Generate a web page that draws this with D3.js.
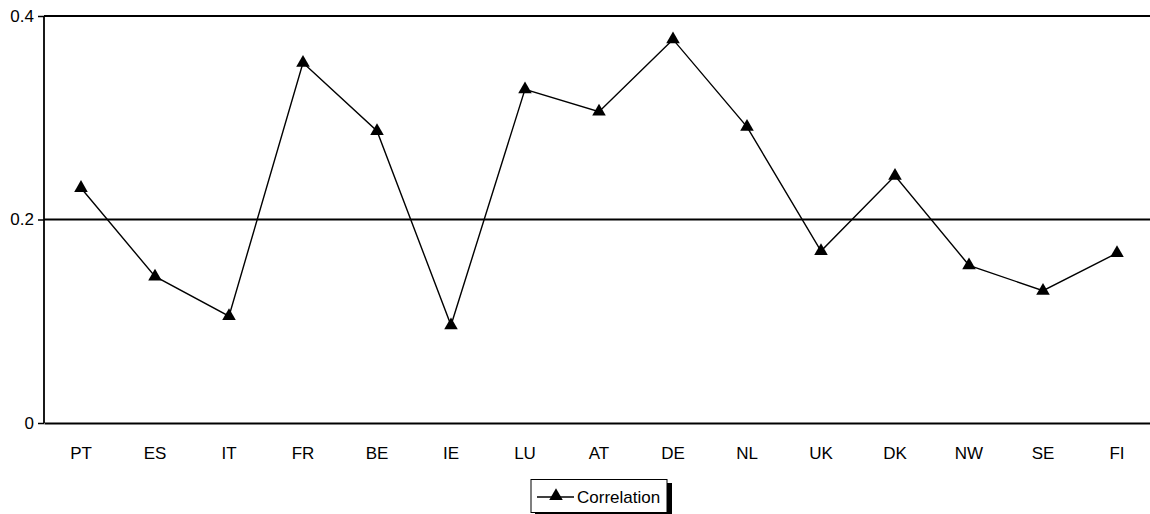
<!DOCTYPE html>
<html>
<head>
<meta charset="utf-8">
<script src="https://cdn.jsdelivr.net/npm/d3@7"></script>
<style>
  body { margin: 0; background: #fff; }
  text { font-family: "Liberation Sans", Arial, sans-serif; }
</style>
</head>
<body>
<svg width="1150" height="514"></svg>
<script>
// country codes along the x axis
var countries = ["PT", "ES", "IT", "FR", "BE", "IE", "LU", "AT", "DE", "NL", "UK", "DK", "NW", "SE", "FI"];
// correlation per country
var correlation = [0.231, 0.144, 0.105, 0.354, 0.287, 0.096, 0.328, 0.306, 0.377, 0.291, 0.169, 0.243, 0.155, 0.130, 0.167];
var yTicks = [0, 0.2, 0.4];

var svg = d3.select("svg");

var xScale = d3.scaleBand().domain(countries).range([44, 1154]);
var yScale = d3.scaleLinear().domain([0, 0.4]).range([423, 16]);

// horizontal gridlines
svg.append("g").selectAll("line.grid")
  .data(yTicks.slice(1))
  .enter()
  .append("line")
  .attr("x1", 44).attr("x2", 1154)
  .attr("y1", function(d) { return yScale(d); })
  .attr("y2", function(d) { return yScale(d); })
  .attr("stroke", "#000")
  .attr("stroke-width", 1.8);

// y axis
var yAxis = d3.axisLeft(yScale).tickValues(yTicks).tickSize(6).tickPadding(4)
  .tickFormat(function(d) { return d === 0 ? "0" : d3.format(".1f")(d); });
var yG = svg.append("g").attr("transform", "translate(44,0)").call(yAxis);
yG.select(".domain").attr("stroke-width", 1.8).attr("d", "M0," + yScale(0) + "V" + yScale(0.4));
yG.selectAll(".tick line").attr("stroke-width", 1.5);
yG.selectAll("text").style("font-size", "17px").attr("fill", "#000");

// x axis
var xAxis = d3.axisBottom(xScale).tickSize(0).tickPadding(24);
var xG = svg.append("g").attr("transform", "translate(0," + yScale(0) + ")").call(xAxis);
xG.select(".domain").attr("stroke-width", 1.8);
xG.selectAll("text").style("font-size", "17px").attr("fill", "#000");

var cx = function(d, i) { return xScale(countries[i]) + xScale.bandwidth() / 2; };

var line = d3.line()
  .x(function(d, i) { return cx(d, i); })
  .y(function(d) { return yScale(d); });

svg.append("path")
  .attr("d", line(correlation))
  .attr("fill", "none")
  .attr("stroke", "#000")
  .attr("stroke-width", 1.4);

var tri = d3.symbol().type(d3.symbolTriangle).size(80);
svg.selectAll("path.pt")
  .data(correlation)
  .enter()
  .append("path")
  .attr("class", "pt")
  .attr("d", tri)
  .attr("transform", function(d, i) { return "translate(" + cx(d, i) + "," + yScale(d) + ")"; })
  .attr("fill", "#000");

// legend
var lg = svg.append("g");
lg.append("rect").attr("x", 535).attr("y", 483).attr("width", 137).attr("height", 33).attr("fill", "#000");
lg.append("rect").attr("x", 531).attr("y", 479.5).attr("width", 136).attr("height", 33)
  .attr("fill", "#fff").attr("stroke", "#000").attr("stroke-width", 1);
lg.append("line").attr("x1", 537).attr("x2", 574).attr("y1", 497).attr("y2", 497)
  .attr("stroke", "#000").attr("stroke-width", 1.4);
lg.append("path").attr("d", tri).attr("transform", "translate(556,496)").attr("fill", "#000");
lg.append("text").attr("x", 577).attr("y", 503).style("font-size", "17px").text("Correlation");
</script>
</body>
</html>
